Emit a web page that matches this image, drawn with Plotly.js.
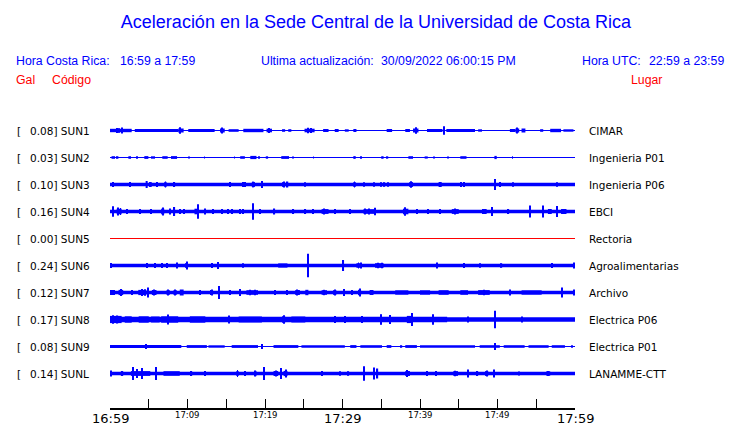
<!DOCTYPE html>
<html>
<head>
<meta charset="utf-8">
<script src="https://cdn.plot.ly/plotly-3.0.1.min.js"></script>
<style>html,body{margin:0;padding:0;background:#fff;}#chart{width:740px;height:423px;}</style>
</head>
<body>
<div id="chart"></div>
<script>
// ---- DATA ----
const stations = ['SUN1','SUN2','SUN3','SUN4','SUN5','SUN6','SUN7','SUN8','SUN9','SUNL'];
const peaks = ['0.08','0.03','0.10','0.16','0.00','0.24','0.12','0.17','0.08','0.14'];
const places = ['CIMAR','Ingenieria P01','Ingenieria P06','EBCI','Rectoria','Agroalimentarias','Archivo','Electrica P06','Electrica P01','LANAMME-CTT'];
const tickMinutes = [0,5,10,15,20,25,30,35,40,45,50,55,60];
const tickLabels = ['16:59','','17:09','','17:19','','17:29','','17:39','','17:49','','17:59'];
const bigTicks = ['16:59','17:29','17:59'];
// background noise half-amplitude of each record
const noise = [0.45,0.45,1.7,1.7,0.45,1.7,1.7,2.3,0.45,1.7];
// bursts: [start minute, end minute, half-amplitude]
const ev_SUN1 = [[0,2.8,1.7],[0.9,1.05,2.5],[1.15,1.3,2.3],[1.45,1.6,3],[3.2,8.8,1.5],[8.8,9.5,2],[9.0,9.15,3.2],[10.1,13.5,1.5],[14.2,14.8,2],[14.4,14.55,3],[15.3,16.6,1.3],[17.2,19.8,1.7],[20.2,20.9,1.8],[20.45,20.6,2.5],[22.2,22.6,1.3],[23.0,23.4,1.3],[25.1,26.4,1.8],[25.5,25.65,2.8],[25.9,26.0,2.5],[27.5,28.2,1.5],[29,29.5,1.5],[30.3,30.8,1.2],[31.4,31.8,1.5],[35.7,36.4,1.5],[38.1,38.7,1.5],[39.1,39.8,2],[39.4,39.55,3.2],[40.9,42.9,1.5],[43.0,43.15,4.2],[43.4,47.1,1.5],[47.5,48.0,1.2],[51.6,52.3,1.5],[52.3,52.8,2],[52.5,52.65,3],[53.1,53.6,2],[55.5,55.9,1.3],[56.8,58.2,1.7],[58.5,59.8,1.2]];
const ev_SUN2 = [[0.2,0.65,1.3],[0.86,1.08,1.3],[2.37,2.71,1.3],[3.4,3.5,1.2],[4.43,4.95,1.4],[5.29,5.81,1.2],[6.75,7.44,1.3],[7.87,8.65,1.4],[10.1,10.2,1.1],[12.15,12.25,1.1],[16.0,16.1,1.1],[16.8,17.4,1.3],[18.1,18.9,1.6],[19.2,19.3,1.2],[20.1,20.4,1.2],[22.1,23.1,1.4],[23.6,23.7,1.1],[26.2,26.3,1.1],[31.4,31.7,1.4],[32.35,32.45,1.2],[35.0,35.3,1.3],[35.7,35.9,1.2],[38.5,39.1,1.3],[40.6,41.0,1.1],[41.8,41.9,1.1],[43.6,43.7,1.1],[45.2,46.0,1.3],[49.6,49.9,1.6],[51.9,52.0,1.2]];
const ev_SUN3 = [[0.35,0.5,2.5],[2.5,2.65,2.5],[4.6,4.86,3.5],[5.16,5.38,2.5],[5.95,6.1,2.5],[7.0,7.3,2.6],[7.1,7.2,3],[8.25,8.4,2.5],[15.45,15.6,2.5],[17.05,17.2,2.5],[17.35,17.5,2.5],[18.3,18.7,2.5],[18.45,18.6,2.9],[19.55,19.7,3.5],[22.2,22.6,2.4],[22.35,22.5,3],[22.8,23.0,3],[25.05,25.2,2.3],[31.4,31.7,2.5],[31.5,31.6,3],[32.65,32.8,2.3],[33.95,34.1,2.3],[34.95,35.1,2.3],[35.35,35.5,2.3],[35.85,36.0,2.3],[38.6,39.1,2.4],[38.8,38.95,3.3],[42.4,42.8,2.5],[45.25,45.4,2.5],[45.55,45.7,2.5],[49.55,49.7,5.5],[50.25,50.4,2.5],[51.95,52.1,2.3],[57.55,57.7,2.3]];
const ev_SUN4 = [[0.35,0.5,5.3],[0.86,1.5,2.8],[0.95,1.1,4],[1.3,1.4,3.5],[2.1,2.25,2.5],[3.8,3.95,2.5],[5.25,5.4,2.5],[6.6,7.0,2.8],[6.75,6.9,4],[7.7,7.85,3],[8.25,8.4,4.5],[8.95,9.1,2.5],[9.45,9.6,2.5],[10.9,11.4,2.8],[11.3,11.45,7.3],[12.15,12.3,3],[13.25,13.4,2.5],[14.35,14.5,2.5],[15.15,15.3,2.5],[15.65,15.8,2.5],[16.75,16.9,2.5],[17.05,17.2,2.5],[18.35,18.5,8.3],[19.3,19.45,2.5],[21.15,21.3,3],[23.6,23.75,2.5],[25.15,25.3,2.5],[26.15,26.3,2.5],[27.3,28.2,2.4],[27.6,27.75,3],[28.95,29.1,2.5],[30.95,31.1,2.5],[32.7,34.2,2.3],[32.8,32.95,3],[33.3,33.45,3],[34.1,34.25,3.8],[37.8,38.5,2.8],[38.0,38.15,4.2],[39.55,39.7,2.5],[40.95,41.1,2.5],[42.55,42.7,2.5],[44.1,45.0,2.4],[44.5,44.65,3],[48.0,48.6,2.5],[49.25,49.4,4.5],[51.35,51.5,2.5],[54.15,54.3,6],[55.75,55.9,6],[56.5,57.0,2.5],[57.55,57.7,5.5],[58.2,58.9,2.5]];
const ev_SUN5 = [];
const ev_SUN6 = [[0.05,0.2,2.5],[4.65,4.8,2.5],[5.75,5.9,2.5],[6.6,6.75,2.5],[7.25,7.4,2.5],[8.55,8.7,3],[9.7,10.0,2.5],[9.85,9.95,4],[13.05,13.2,2.5],[13.85,14.0,3.5],[17.05,17.2,2.3],[21.7,22.9,2.1],[25.45,25.6,11.8],[30.05,30.2,5.5],[31.8,32.5,2.3],[32.0,32.1,3],[32.3,32.4,3],[34.2,35.3,2.3],[34.5,34.6,2.8],[35.0,35.1,2.7],[42.1,42.25,3],[45.55,45.7,2.5],[47.65,47.8,2.3],[50.45,50.6,2.3],[56.95,57.1,2.5],[59.75,59.9,3]];
const ev_SUN7 = [[0,0.65,2.5],[1.1,1.7,2.6],[1.3,1.45,3.5],[2.75,2.9,2.5],[3.65,4.7,2.6],[4.0,4.15,3.5],[4.4,4.55,3.3],[4.8,4.95,5],[5.4,6.0,2.5],[5.6,5.75,3],[7.3,7.7,2.5],[7.45,7.6,3],[8.2,8.6,2.5],[8.35,8.5,3],[9.0,9.5,3],[11.55,11.7,2.5],[12.9,13.3,2.5],[13.05,13.2,3],[13.95,14.1,6.5],[15.45,15.6,2.5],[16.65,16.8,3.5],[17.6,19.1,2.3],[18.0,18.15,2.7],[18.6,18.75,2.7],[21.25,21.4,2.5],[22.75,22.9,2.5],[23.9,24.5,2.5],[24.1,24.25,3],[25.2,25.6,2.7],[27.3,28.0,2.3],[27.6,27.75,2.7],[28.8,29.2,2.5],[28.95,29.1,3],[30.15,30.3,3.5],[31.15,31.3,2.5],[32.0,32.4,2.7],[32.15,32.3,4],[33.5,34.0,2.5],[36.8,38.5,2.2],[40.0,41.3,2.2],[42.4,43.7,2.3],[45.2,46.2,2.3],[47.5,49.0,2.4],[48.2,48.35,2.8],[51.55,51.7,3],[53.1,55.7,2.2],[58.25,58.4,5],[59.75,59.9,3]];
const ev_SUN8 = [[0,43.5,2.7],[0,1.5,3.6],[0.3,0.45,4.3],[0.9,1.05,4],[1.9,2.8,3.2],[3.7,5.0,3.2],[5.3,6.4,3.0],[6.6,8.8,3.2],[7.45,7.6,5],[10.3,12.3,3.2],[15.25,15.4,4],[16.6,19.6,3],[22.2,22.6,3.3],[22.35,22.5,4.3],[23.4,25.2,3],[28.95,29.1,3.5],[30.25,30.4,3.5],[32.45,32.6,3.5],[34.95,35.1,5.3],[36.05,36.2,4.5],[38.3,39.1,3.6],[38.95,39.1,6.5],[41.65,41.8,5.3],[46.15,46.3,3],[49.55,49.7,8.8],[53.05,53.2,3]];
const ev_SUN9 = [[0,9.2,1.4],[4.55,4.7,2.5],[9.9,12.5,1.4],[12.7,14.8,1.2],[15.7,19.1,1.4],[19.55,19.7,2.5],[21.1,24.3,1.4],[24.7,30.3,1.3],[31.0,31.8,1.4],[32.3,35.1,1.3],[35.7,36.3,1.4],[37.5,37.7,1.3],[38.1,39.6,1.4],[40.0,47.1,1.3],[47.7,50.3,1.3],[49.55,49.7,3.5],[50.8,53.5,1.3],[54.0,56.6,1.3],[57.0,58.7,1.3],[59.5,59.7,1.3]];
const ev_SUNL = [[0.05,0.2,3],[1.4,1.7,2.5],[2.7,5.2,2.4],[2.95,3.1,6.5],[3.45,3.6,4.5],[4.0,4.15,5.5],[5.85,6.0,6.5],[6.9,9.0,2.3],[10.45,10.6,2.5],[12.15,12.3,2.5],[16.3,16.6,2.5],[16.4,16.5,3.5],[17.35,17.5,2.5],[18.6,18.9,2.6],[18.7,18.8,3],[19.75,19.9,6.5],[21.1,21.7,2.5],[21.3,21.45,3],[21.95,22.1,5.5],[22.4,22.9,2.6],[22.6,22.75,4],[27.25,27.4,2.5],[29.65,29.8,2.3],[30.7,30.85,2.3],[32.65,32.8,7.3],[33.95,34.1,6],[34.45,34.6,5],[38.1,38.7,2.5],[38.3,38.45,3.5],[40.85,41.0,2.5],[41.95,42.1,2.5],[44.3,44.9,2.4],[44.5,44.6,2.8],[46.15,46.3,4],[47.35,47.5,2.5],[48.4,48.8,2.5],[48.55,48.7,3],[49.45,49.6,4],[52.65,52.8,2],[56.3,56.8,2.3],[56.5,56.6,2.6]];
const events = [ev_SUN1,ev_SUN2,ev_SUN3,ev_SUN4,ev_SUN5,ev_SUN6,ev_SUN7,ev_SUN8,ev_SUN9,ev_SUNL];
const traceColors = ['#0000ff','#0000ff','#0000ff','#0000ff','#ff0000','#0000ff','#0000ff','#0000ff','#0000ff','#0000ff'];

// ---- LAYOUT GEOMETRY ----
const W = 740, H = 423;
const M = {l:110, r:165, t:116, b:14};
const PW = W - M.l - M.r, PH = H - M.t - M.b;
const px = x => (x - M.l) / PW;
const py = y => (H - M.b - y) / PH;
const ROW0 = 130.5, ROWGAP = 27;   // pixel of first record and spacing
const AMP = 1/ROWGAP;              // amplitude units -> row units

const traces = stations.map((s, i) => {
  const xs = [30], ws = [60], base = [i - noise[i]*AMP], hs = [2*noise[i]*AMP];
  events[i].forEach(e => {
    xs.push((e[0]+e[1])/2); ws.push(e[1]-e[0]);
    base.push(i - e[2]*AMP); hs.push(2*e[2]*AMP);
  });
  return {type:'bar', x:xs, y:hs, base:base, width:ws, name:s,
    marker:{color:traceColors[i], line:{width:0}}, hoverinfo:'skip', showlegend:false};
});

const blue = '#0000ff', red = '#ff0000';
const hf = (c) => ({family:'Liberation Sans, Arial, sans-serif', size:12.3, color:c});
const lf = {family:'DejaVu Sans, sans-serif', size:10.5, color:'#000'};
const ann = [];
function txt(text, x, y, anchor, font){
  ann.push({text, xref:'paper', yref:'paper', x:px(x), y:py(y), xanchor:anchor, yanchor:'middle', showarrow:false, font, borderpad:0});
}
txt('Hora Costa Rica:', 15, 61, 'left', hf(blue));
txt('16:59 a 17:59', 119, 61, 'left', hf(blue));
txt('Ultima actualización:', 260, 61, 'left', hf(blue));
txt('30/09/2022 06:00:15 PM', 380, 61, 'left', hf(blue));
txt('Hora UTC:', 581, 61, 'left', hf(blue));
txt('22:59 a 23:59', 725, 61, 'right', hf(blue));
txt('Gal', 15, 80, 'left', hf(red));
txt('Código', 51, 80, 'left', hf(red));
txt('Lugar', 630, 80, 'left', hf(red));
stations.forEach((s, i) => {
  ann.push({text:'[', xref:'paper', yref:'y', x:px(15), y:i, xanchor:'left', yanchor:'middle', showarrow:false, font:lf});
  ann.push({text:peaks[i] + '] ' + s, xref:'paper', yref:'y', x:px(28), y:i, xanchor:'left', yanchor:'middle', showarrow:false, font:lf});
  ann.push({text:places[i], xref:'paper', yref:'y', x:px(587), y:i, xanchor:'left', yanchor:'middle', showarrow:false, font:lf});
});
// time labels under the axis (two sizes, as in the original)
tickMinutes.forEach((m, k) => {
  const t = tickLabels[k];
  if (!t) return;
  const big = bigTicks.includes(t);
  ann.push({text:t, xref:'x', yref:'paper', x:m, y:py(big ? 418.5 : 414.5), xanchor:'center', yanchor:'middle',
    showarrow:false, borderpad:0, font:{family:'DejaVu Sans, sans-serif', size: big ? 13 : 8.5, color:'#000'}});
});

const layout = {
  width: W, height: H, margin: M, paper_bgcolor:'#fff', plot_bgcolor:'#fff',
  barmode:'overlay', showlegend:false,
  title:{text:'Aceleración en la Sede Central de la Universidad de Costa Rica', x:376/W, xref:'container', xanchor:'center', y:1-22/H, yref:'container', yanchor:'middle', font:{family:'Liberation Sans, Arial, sans-serif', size:18, color:blue}},
  xaxis:{range:[0,60], showgrid:false, zeroline:false, showline:true, linecolor:'#000', linewidth:1,
    ticks:'inside', ticklen:10, tickcolor:'#000', tickwidth:1, tickmode:'array', tickvals:tickMinutes,
    showticklabels:false, automargin:false, fixedrange:true, layer:'above traces'},
  yaxis:{range:[(H - M.b - ROW0)/ROWGAP, (M.t - ROW0)/ROWGAP], showgrid:false, zeroline:false, showline:false,
    showticklabels:false, ticks:'', automargin:false, fixedrange:true},
  shapes:[{type:'line', xref:'paper', yref:'paper', x0:0, x1:1, y0:py(408.5), y1:py(408.5), layer:'above', line:{color:'#000', width:1}}],
  annotations: ann
};
Plotly.newPlot('chart', traces, layout, {displayModeBar:false, responsive:false});
</script>
</body>
</html>
